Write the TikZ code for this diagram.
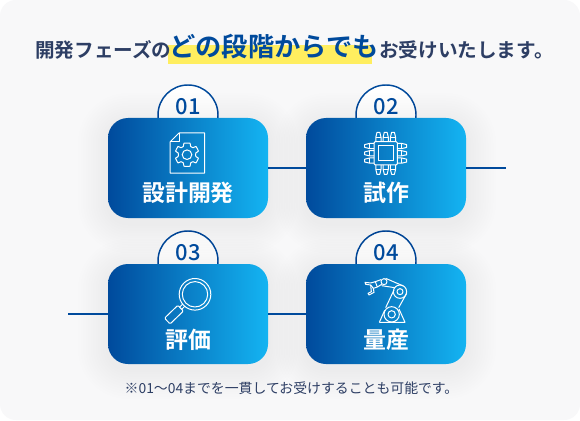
\documentclass[tikz,border=0pt]{standalone}
\usepackage{fontspec}
\setmainfont{Noto Sans CJK JP}
\newfontfamily\jpmed{Noto Sans CJK JP Medium}
\newfontfamily\jpbold{Noto Sans CJK JP Bold}
\definecolor{bgc}{HTML}{F8F8F9}
\definecolor{navy}{HTML}{2D3E64}
\definecolor{blued}{HTML}{004A9C}
\definecolor{bluel}{HTML}{14B4F2}
\definecolor{hl}{HTML}{FFEE5F}
\tikzset{
  cardbox/.style={rectangle,rounded corners=15pt,minimum width=120pt,minimum height=75pt,inner sep=0pt,left color=blued,right color=bluel,shading angle=90},
  numcirc/.style={circle,draw=blued,line width=1.1pt,fill=white,minimum size=45pt,inner sep=0pt},
  numtext/.style={text=blued,font=\jpmed\fontsize{16.5}{16.5}\selectfont,inner sep=0pt},
  cardlabel/.style={text=white,font=\jpbold\fontsize{17.2}{17.2}\selectfont,inner sep=0pt},
  link/.style={draw=blued,line width=1.5pt},
  icon/.style={draw=white,line width=0.75pt,line join=round},
  titletext/.style={text=navy,font=\jpbold\fontsize{14.7}{14.7}\selectfont,inner sep=0pt,anchor=west},
}
\begin{document}
\begin{tikzpicture}[x=0.75pt,y=-0.75pt]
\useasboundingbox (0,0) rectangle (580,420);
\fill[white] (0,0) rectangle (580,420);
\fill[bgc,rounded corners=12pt] (0,0) rectangle (580,420);
% title
\fill[hl] (168,45) rectangle (372,64);
\node[titletext] (t1) at (35,50) {開発フェーズの};
\node[inner sep=0pt,anchor=west,text=blued,font=\jpbold\fontsize{19.7}{19.7}\selectfont] (t2) at (169,46.5) {どの段階からでも};
\node[titletext] (t3) at (379,50) {お受けいたします。};
% anchors
\coordinate (a) at (188,168);
\coordinate (b) at (386,168);
\coordinate (c) at (188,314);
\coordinate (d) at (386,314);
\coordinate (e2) at (506,168);
\coordinate (e3) at (68,314);
% number circles
\node[numcirc] (c1) at (188,115) {};
\node[numcirc] (c2) at (386,115) {};
\node[numcirc] (c3) at (188,261) {};
\node[numcirc] (c4) at (386,261) {};
% soft shadows
\foreach \p in {a,b,c,d}{
  \foreach \g in {30,27.5,25,22.5,20,17.5,15,12.5,10,7.5,5,2.5}{
    \fill[black,opacity=0.0045,rounded corners={15pt+0.75pt*\g}] ([shift={(-80-\g,-50-\g+5)}]\p) rectangle ([shift={(80+\g,50+\g+5)}]\p);
  }
}
% cards
\node[cardbox] (n1) at (a) {};
\node[cardbox] (n2) at (b) {};
\node[cardbox] (n3) at (c) {};
\node[cardbox] (n4) at (d) {};
% connectors
\draw[link] (n1.east) -- (n2.west);
\draw[link] (n2.east) -- (e2);
\draw[link] (e3) -- (n3.west);
\draw[link] (n3.east) -- (n4.west);
% numbers
\node[numtext] (l1) at (188,107) {01};
\node[numtext] (l2) at (386,107) {02};
\node[numtext] (l3) at (188,253) {03};
\node[numtext] (l4) at (386,253) {04};
% card labels
\node[cardlabel] (s1) at (188,193) {設計開発};
\node[cardlabel] (s2) at (386,193) {試作};
\node[cardlabel] (s3) at (188,340) {評価};
\node[cardlabel] (s4) at (386,340) {量産};
% document icon
\draw[icon] (179,133) -- (204.7,133) -- (204.7,173) -- (170,173) -- (170,142) -- cycle;
\draw[icon] (179,133) -- (179,142) -- (170,142);
\begin{scope}[shift={(187,154.7)}]
  \draw[icon] plot[smooth cycle,tension=0.25] coordinates {
    (-3,-11.5)(3,-11.5)(3.6,-8.3)(6,-7)(9,-8.2)(11.4,-3.5)(8.8,-1.8)(8.8,1.8)(11.4,3.5)(9,8.2)(6,7)(3.6,8.3)(3,11.5)(-3,11.5)(-3.6,8.3)(-6,7)(-9,8.2)(-11.4,3.5)(-8.8,1.8)(-8.8,-1.8)(-11.4,-3.5)(-9,-8.2)(-6,-7)(-3.6,-8.3)};
  \draw[icon] (0,0) circle (4.8);
\end{scope}
% chip icon
\begin{scope}[shift={(385.7,153.3)}]
  \draw[icon,rounded corners=1pt] (-11.7,-11.7) rectangle (11.7,11.7);
  \draw[icon] (-7.7,-7.7) rectangle (7.7,7.7);
  \foreach \r in {0,90,180,270}{
    \begin{scope}[rotate=\r]
    \foreach \q in {-7.3,0,7.3}{
      \draw[icon] (\q-2.6,-11.7) -- (\q-2.6,-16) -- (\q-1.4,-21) -- (\q+1.4,-21) -- (\q+2.6,-16) -- (\q+2.6,-11.7);
      \draw[icon] (\q-2.6,-16) -- (\q+2.6,-16);
    }
    \end{scope}
  }
\end{scope}
% magnifier icon
\begin{scope}[shift={(195,294.3)},rotate=-46]
  \draw[icon] (0,0) circle (15.8);
  \draw[icon] (0,0) circle (12.7);
  \draw[icon] (-1.5,15.8) -- (-1.5,20) (1.5,15.8) -- (1.5,20);
  \draw[icon,rounded corners=0.8pt] (-4,20) rectangle (4,38.5);
\end{scope}
% robot arm icon
\begin{scope}[shift={(300,235)},scale=1/3]
  \draw[icon] (238,262) -- (315,262) -- (297,222);
  \draw[icon] (238,262) -- (254,226);
  \draw[icon] (275,238) circle (23);
  \draw[icon] (275,238) circle (11);
  \draw[icon] (257,218) -- (282,165);
  \draw[icon] (296,218) -- (320,175);
  \draw[icon] (300,170) circle (20);
  \draw[icon] (300,170) circle (9);
  \draw[icon] (257,130) -- (310,153);
  \draw[icon] (245,152) -- (284,158);
  \draw[icon] (252,140) circle (9);
  \draw[icon] (243,134) -- (226,140) -- (232,156) -- (245,148);
  \draw[icon] (226,140) -- (212,144) -- (195,142) -- (197,148) -- (212,150) -- (220,160) -- (232,156);
  \draw[icon] (220,160) -- (222,172) -- (207,180) -- (204,175) -- (214,170) -- (212,150);
\end{scope}
% footer
\node[inner sep=0pt,text=navy,font=\fontsize{10.4}{10.4}\selectfont] (f) at (291.5,388.5) {※01〜04までを一貫してお受けすることも可能です。};
\end{tikzpicture}
\end{document}
